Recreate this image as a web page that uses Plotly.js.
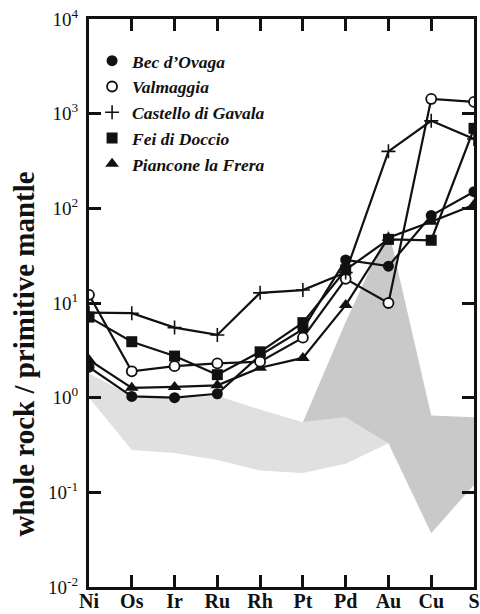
<!DOCTYPE html>
<html>
<head>
<meta charset="utf-8">
<script src="https://cdn.plot.ly/plotly-3.0.1.min.js"></script>
<style>
  html, body { margin: 0; padding: 0; background: #fff; }
  #chart { width: 480px; height: 614px; }
</style>
</head>
<body>
<div id="chart"></div>
<script>
// Elements along the x axis
const categories = ['Ni', 'Os', 'Ir', 'Ru', 'Rh', 'Pt', 'Pd', 'Au', 'Cu', 'S'];

// Decade ticks of the log axis and their labels
const yTickValues = [0.01, 0.1, 1, 10, 100, 1000, 10000];
const yTickLabels = ['10<sup>-2</sup>', '10<sup>-1</sup>', '10<sup>0</sup>', '10<sup>1</sup>',
                     '10<sup>2</sup>', '10<sup>3</sup>', '10<sup>4</sup>'];

// Whole rock / primitive mantle ratios for each locality
const becOvaga        = [2.1, 1.03, 1.0, 1.1, 2.8, 5.3, 28.5, 24.5, 84, 150];
const valmaggia       = [12.2, 1.9, 2.15, 2.3, 2.4, 4.3, 18, 10, 1430, 1330];
const castelloGavala  = [7.9, 7.8, 5.5, 4.6, 12.8, 13.7, 21, 400, 840, 540];
const feiDoccio       = [7.1, 3.9, 2.75, 1.75, 3.05, 6.2, 22.4, 47, 46, 700];
const pianconeFrera   = [2.5, 1.27, 1.3, 1.35, 2.07, 2.63, 9.5, 49, 72, 109];

// Reference field (light band, Ni to Au)
const bandCats  = ['Ni', 'Os', 'Ir', 'Ru', 'Rh', 'Pt', 'Pd', 'Au'];
const bandUpper = [1.8, 1.05, 1.0, 1.05, 0.75, 0.55, 0.62, 0.6];
const bandLower = [1.0, 0.28, 0.26, 0.22, 0.17, 0.16, 0.2, 0.33];

// Reference field (dense stipple, Pt to S)
const peakCats  = ['Pt', 'Pd', 'Au', 'Cu', 'S'];
const peakUpper = [0.55, 6.3, 60, 0.65, 0.62];
const peakLower = [0.55, 0.62, 0.33, 0.037, 0.12];

const seriesNames  = ['Bec d\u2019Ovaga', 'Valmaggia', 'Castello di Gavala', 'Fei di Doccio', 'Piancone la Frera'];
const seriesValues = [becOvaga, valmaggia, castelloGavala, feiDoccio, pianconeFrera];

const idx = c => categories.indexOf(c);
const xs = categories.map((c, i) => i);

const markerStyles = [
  { symbol: 'circle', size: 11, color: '#111', line: { width: 0 } },
  { symbol: 'circle', size: 10, color: '#fff', line: { width: 1.8, color: '#111' } },
  { symbol: 'cross-thin-open', size: 10, color: '#111', line: { width: 1.6, color: '#111' } },
  { symbol: 'square', size: 11, color: '#111', line: { width: 0 } },
  { symbol: 'triangle-up', size: 12, color: '#111', line: { width: 0 } }
];

function field(cats, upper, lower, color) {
  const xu = cats.map(idx);
  return {
    x: xu.concat(xu.slice().reverse()),
    y: upper.concat(lower.slice().reverse()),
    mode: 'lines',
    fill: 'toself',
    fillcolor: color,
    line: { width: 0 },
    hoverinfo: 'skip',
    showlegend: false
  };
}

const traces = [
  field(bandCats, bandUpper, bandLower, '#e0e0e0'),
  field(peakCats, peakUpper, peakLower, '#c9c9c9')
];

// drawing order keeps the black dots on the bottom where the symbols overlap
const drawOrder = [0, 4, 1, 2, 3];
drawOrder.forEach(k => {
  traces.push({
    x: xs,
    y: seriesValues[k],
    mode: 'lines+markers',
    line: { color: '#111', width: 2.2 },
    marker: markerStyles[k],
    showlegend: false,
    name: seriesNames[k]
  });
});

// legend keys (symbols only)
seriesNames.forEach((n, k) => {
  traces.push({
    x: [null], y: [null],
    mode: 'markers',
    marker: markerStyles[k],
    name: n,
    showlegend: true
  });
});

const serif = 'Liberation Serif, Times New Roman, serif';

const layout = {
  width: 480,
  height: 614,
  margin: { l: 89, r: 6, t: 19, b: 27 },
  paper_bgcolor: '#fff',
  plot_bgcolor: '#fff',
  showlegend: true,
  legend: {
    x: 0.008, y: 0.958, xanchor: 'left', yanchor: 'top',
    bgcolor: 'rgba(0,0,0,0)',
    font: { family: serif, size: 17.5, color: '#111', weight: 'bold', style: 'italic' },
    itemwidth: 30,
    tracegroupgap: 0
  },
  xaxis: {
    range: [0, 9],
    tickvals: xs,
    ticktext: categories,
    ticks: 'inside',
    ticklen: 12,
    tickwidth: 3,
    tickcolor: '#111',
    showline: true,
    linewidth: 3,
    linecolor: '#111',
    mirror: 'ticks',
    showgrid: false,
    zeroline: false,
    ticklabelstandoff: -6,
    tickfont: { family: serif, size: 20, color: '#111', weight: 'bold' },
    fixedrange: true
  },
  yaxis: {
    type: 'log',
    range: [-2, 4],
    tickvals: yTickValues,
    ticktext: yTickLabels,
    ticks: 'inside',
    ticklen: 12,
    tickwidth: 3,
    tickcolor: '#111',
    showline: true,
    linewidth: 3,
    linecolor: '#111',
    mirror: 'ticks',
    showgrid: false,
    zeroline: false,
    ticklabelstandoff: 4,
    tickfont: { family: serif, size: 19, color: '#111' },
    fixedrange: true
  },
  annotations: [{
    text: '<b>whole rock / primitive mantle</b>',
    xref: 'paper', yref: 'paper',
    x: -0.168, y: 0.41,
    xanchor: 'center', yanchor: 'middle',
    textangle: -90,
    showarrow: false,
    font: { family: serif, size: 29, color: '#111' }
  }]
};

Plotly.newPlot('chart', traces, layout, { displayModeBar: false, staticPlot: true });
</script>
</body>
</html>
